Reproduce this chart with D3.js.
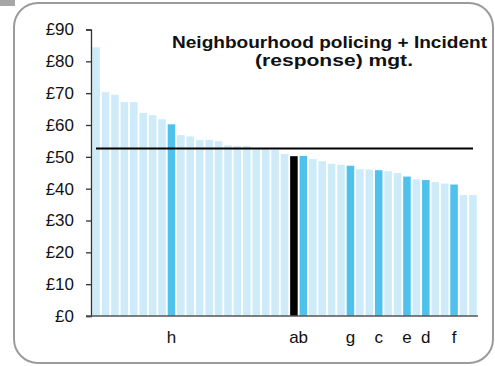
<!DOCTYPE html>
<html>
<head>
<meta charset="utf-8">
<script src="https://cdn.jsdelivr.net/npm/d3@7"></script>
<style>
  html, body { margin: 0; padding: 0; background: #fff; }
  svg { display: block; font-family: "Liberation Sans", Arial, sans-serif; }
</style>
</head>
<body>
<svg id="chart" width="495" height="366"></svg>
<script>
// ---- data ----
const labels = ["", "", "", "", "", "", "", "", "h", "", "", "", "", "", "", "", "", "", "", "", "",
                "a", "b", "", "", "", "", "g", "", "", "c", "", "", "e", "", "d", "", "", "f", "", ""];
const values = [84.4, 70.3, 69.5, 67.2, 67.2, 63.8, 63.1, 61.8, 60.2, 56.8, 56.4, 55.3, 55.3, 54.9,
                53.6, 53.4, 53.4, 52.4, 52.3, 52.2, 50.9, 50.2, 50.3, 49.3, 48.6, 47.8, 47.5, 47.2,
                46.1, 46.0, 45.8, 45.5, 44.9, 43.8, 42.9, 42.7, 42.1, 41.6, 41.3, 38.0, 38.0];
// 0 = other, 1 = highlighted, 2 = own force
const groups = [0,0,0,0,0,0,0,0,1,0,0,0,0,0,0,0,0,0,0,0,0,
                2,1,0,0,0,0,1,0,0,1,0,0,1,0,1,0,0,1,0,0];
const average = 52.6;
const yTicks = [0, 10, 20, 30, 40, 50, 60, 70, 80, 90];
const titleLines = ["Neighbourhood policing + Incident", "(response) mgt."];

// ---- drawing ----
const svg = d3.select("#chart");
const colors = ["#cdebf8", "#4ec1ec", "#000000"];

// frame
svg.append("rect").attr("x", 0).attr("y", 0).attr("width", 15).attr("height", 6).attr("fill", "#a6a6a6");
svg.append("rect").attr("x", 14).attr("y", 3).attr("width", 479).attr("height", 360)
  .attr("rx", 24).attr("ry", 24).attr("fill", "#fff").attr("stroke", "#9b9b9b").attr("stroke-width", 2);

const x = d3.scaleBand().domain(d3.range(values.length)).range([91, 478])
  .paddingInner(0.2).paddingOuter(0.14);
const y = d3.scaleLinear().domain([0, 90]).range([316, 29.5]);

// bars
svg.append("g").selectAll("rect").data(values).join("rect")
  .attr("x", (d, i) => x(i))
  .attr("width", x.bandwidth())
  .attr("y", d => y(d))
  .attr("height", d => y(0) - y(d))
  .attr("fill", (d, i) => colors[groups[i]]);

// y axis
const yAxis = svg.append("g").attr("transform", "translate(91,0)")
  .call(d3.axisLeft(y).tickValues(yTicks).tickSize(5).tickPadding(12).tickFormat(d => "£" + d));
yAxis.select(".domain").attr("stroke", "#333").attr("stroke-width", 1.3);
yAxis.selectAll(".tick line").attr("stroke", "#333").attr("stroke-width", 1.3);
yAxis.selectAll(".tick text").attr("font-size", 17).attr("fill", "#111")
  .attr("font-family", "'Liberation Sans', Arial, sans-serif");

// x axis
const xAxis = svg.append("g").attr("transform", `translate(0,${y(0)})`)
  .call(d3.axisBottom(x).tickSize(0).tickPadding(15).tickFormat(i => labels[i]));
xAxis.select(".domain").attr("stroke", "#555").attr("stroke-width", 1.5).attr("d", "M86,0H478");
xAxis.selectAll(".tick text").attr("font-size", 17).attr("fill", "#111")
  .attr("font-family", "'Liberation Sans', Arial, sans-serif");

// average line
svg.append("line").attr("x1", 96).attr("x2", 473)
  .attr("y1", y(average)).attr("y2", y(average))
  .attr("stroke", "#000").attr("stroke-width", 2);

// title
const titleX = [172, 255];
const titleW = [315, 158];
svg.append("g").selectAll("text").data(titleLines).join("text")
  .attr("x", (d, i) => titleX[i]).attr("y", (d, i) => 48 + i * 18)
  .attr("textLength", (d, i) => titleW[i]).attr("lengthAdjust", "spacingAndGlyphs")
  .attr("font-size", 17).attr("font-weight", "bold").attr("fill", "#111")
  .text(d => d);
</script>
</body>
</html>
